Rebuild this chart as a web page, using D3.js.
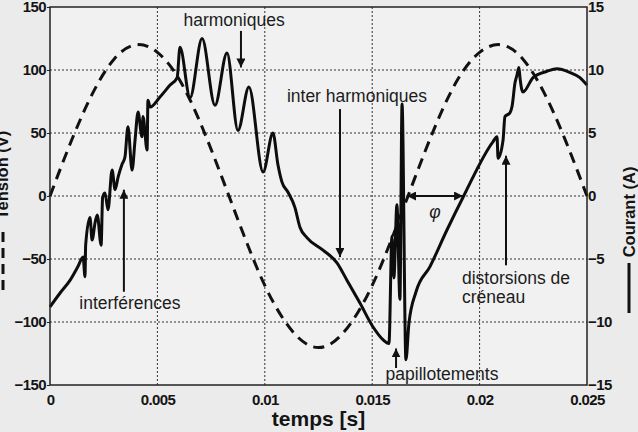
<!DOCTYPE html>
<html>
<head>
<meta charset="utf-8">
<script src="https://cdn.jsdelivr.net/npm/d3@7"></script>
<style>
    body { margin: 0; background: #ebebeb; }
    svg { display: block; font-family: "Liberation Sans", Arial, sans-serif; }
    .tick-label { font-weight: bold; font-size: 15px; fill: #141414; letter-spacing: -0.6px; }
    .note { font-size: 17.5px; fill: #1c1c1c; }
    .axis-title { font-weight: bold; fill: #141414; }
</style>
</head>
<body>
<svg class="chart" width="638" height="432"></svg>
<script>
// Tension (V), dashed curve, read every millisecond
const tensionTime = [0, 0.001, 0.002, 0.003, 0.004, 0.005, 0.006, 0.007, 0.008, 0.009, 0.010, 0.011, 0.012,
    0.013, 0.014, 0.015, 0.016, 0.017, 0.018, 0.019, 0.020, 0.021, 0.022, 0.023, 0.024, 0.025];
const tensionValues = [0, 44, 82, 109, 120, 114, 93, 58, 15, -30, -71, -101, -118,
    -118, -101, -71, -30, 15, 58, 93, 114, 120, 109, 82, 44, 0];

// Courant (A), solid curve
const courantTime = [0, 0.00047, 0.00093, 0.0013, 0.00154, 0.00163, 0.00166, 0.00186, 0.00196, 0.0021, 0.0022,
    0.00238, 0.00245, 0.00256, 0.0027, 0.00289, 0.00303, 0.00317, 0.00335, 0.00349, 0.00363, 0.00382, 0.00396,
    0.0041, 0.00428, 0.00433, 0.00452, 0.00456, 0.00466, 0.00512, 0.00559, 0.00592, 0.00605, 0.00652, 0.00708,
    0.00768, 0.00824, 0.00875, 0.00926, 0.00992, 0.01038, 0.01061, 0.0108, 0.01108, 0.0114, 0.01164, 0.01196,
    0.01271, 0.01336, 0.01383, 0.01443, 0.01504, 0.0155, 0.01578, 0.01592, 0.01601, 0.01615, 0.01629, 0.01639,
    0.01657, 0.01671, 0.01704, 0.01769, 0.01848, 0.01923, 0.02062, 0.02081, 0.02086, 0.02109, 0.02118, 0.02141,
    0.02151, 0.02165, 0.02174, 0.02183, 0.02188, 0.02197, 0.02202, 0.02249, 0.02314, 0.0236, 0.02421, 0.02467, 0.025];
const courantValues = [-8.8, -7.7, -6.7, -5.6, -4.84, -6.4, -3.9, -1.7, -3.5, -2.1, -1.5,
    -3.9, -0.1, 0.24, -1.1, 2.06, 0.5, 1.5, 2.5, 3.1, 5.5, 2.06, 4.44,
    6.67, 4.7, 6.3, 3.65, 7.6, 7.06, 7.86, 8.8, 9.4, 11.8, 7.8, 12.5,
    7.2, 11.35, 5.2, 8.65, 1.9, 5.0, 2.5, 1.1, 0.3, -0.9, -2.5, -3.3,
    -4.3, -5.3, -6.7, -8.5, -10.4, -11.4, -11.7, -3.2, -6.5, -0.7, -8.2, 7.3,
    -13.0, -10.1, -7.6, -5.6, -2.7, -0.1, 4.3, 4.7, 3.0, 4.4, 6.3, 6.6,
    7.1, 9.0, 9.6, 10.2, 9.4, 8.4, 8.25, 9.4, 9.9, 10.1, 9.8, 9.4, 8.8];

const xTicks = [0, 0.005, 0.01, 0.015, 0.02, 0.025];
const xTickLabels = ["0", "0.005", "0.01", "0.015", "0.02", "0.025"];
const tensionTicks = [-150, -100, -50, 0, 50, 100, 150];
const courantTicks = [-15, -10, -5, 0, 5, 10, 15];

// annotations, in data units (t, courant)
const noteTexts = [
    {t: 0.00857, a: 13.5, anchor: "middle", text: "harmoniques"},
    {t: 0.01429, a: 7.5, anchor: "middle", text: "inter harmoniques"},
    {t: 0.00372, a: -9.0, anchor: "middle", text: "interférences"},
    {t: 0.01825, a: -14.6, anchor: "middle", text: "papillotements"},
    {t: 0.01918, a: -7.0, anchor: "start", text: "distorsions de"},
    {t: 0.01918, a: -8.5, anchor: "start", text: "créneau"}
];
const noteArrows = [
    {t0: 0.00889, a0: 13.1, t1: 0.00889, a1: 10.2},
    {t0: 0.0135, a0: 6.9, t1: 0.0135, a1: -4.85},
    {t0: 0.00344, a0: -7.6, t1: 0.00344, a1: 0.5},
    {t0: 0.01611, a0: -13.65, t1: 0.01611, a1: -12.1},
    {t0: 0.02123, a0: -5.5, t1: 0.02123, a1: 3.2}
];
const phiArrow = {t0: 0.01662, t1: 0.01923, a: 0};

(function chartIIFE() {
    const svg = d3.select("svg.chart");
    const margin = {top: 7, right: 51, bottom: 47, left: 50};
    const width = svg.attr("width") - margin.left - margin.right;
    const height = svg.attr("height") - margin.top - margin.bottom;
    const g = svg.append("g").attr("transform", "translate(" + margin.left + "," + margin.top + ")");

    const x = d3.scaleLinear().domain([0, 0.025]).range([0, width]);
    const yV = d3.scaleLinear().domain([-150, 150]).range([height, 0]);
    const yA = d3.scaleLinear().domain([-15, 15]).range([height, 0]);

    const defs = svg.append("defs");
    defs.append("marker")
        .attr("id", "head")
        .attr("viewBox", "0 0 10 10")
        .attr("refX", 10).attr("refY", 5)
        .attr("markerWidth", 9).attr("markerHeight", 9)
        .attr("markerUnits", "userSpaceOnUse")
        .attr("orient", "auto-start-reverse")
        .append("path")
        .attr("d", "M0,0L10,5L0,10z")
        .attr("fill", "#111");

    g.append("rect")
        .attr("width", width).attr("height", height)
        .attr("fill", "#f1f1f1");

    // dotted grid
    g.append("g").selectAll("line")
        .data(xTicks.slice(1, -1))
        .enter().append("line")
        .attr("x1", d => x(d)).attr("x2", d => x(d))
        .attr("y1", 0).attr("y2", height)
        .attr("stroke", "#333").attr("stroke-width", 1).attr("stroke-dasharray", "2,2");
    g.append("g").selectAll("line")
        .data(tensionTicks.slice(1, -1))
        .enter().append("line")
        .attr("x1", 0).attr("x2", width)
        .attr("y1", d => yV(d)).attr("y2", d => yV(d))
        .attr("stroke", "#333").attr("stroke-width", 1).attr("stroke-dasharray", "2,2");

    // axes
    const left = g.append("g")
        .call(d3.axisLeft(yV).tickValues(tensionTicks).tickSize(3).tickFormat(d3.format("d")));
    const right = g.append("g")
        .attr("transform", "translate(" + width + ",0)")
        .call(d3.axisRight(yA).tickValues(courantTicks).tickSize(0).tickPadding(1).tickFormat(d3.format("d")));
    const bottom = g.append("g")
        .attr("transform", "translate(0," + height + ")")
        .call(d3.axisBottom(x).tickValues(xTicks).tickSize(0).tickPadding(9).tickFormat((d, i) => xTickLabels[i]));
    [left, right, bottom].forEach(function(ax) {
        ax.select(".domain").remove();
        ax.selectAll(".tick line").attr("stroke", "#222");
        ax.selectAll(".tick text").attr("class", "tick-label").attr("fill", null);
    });
    left.selectAll(".tick text").attr("x", -4);

    // voltage (dashed)
    const tensionLine = d3.line()
        .x((d, i) => x(tensionTime[i]))
        .y(d => yV(d))
        .curve(d3.curveNatural);
    g.append("path")
        .datum(tensionValues)
        .attr("d", tensionLine)
        .attr("fill", "none")
        .attr("stroke", "#111")
        .attr("stroke-width", 3)
        .attr("stroke-dasharray", "11,7");

    // current (solid)
    const courantLine = d3.line()
        .x((d, i) => x(courantTime[i]))
        .y(d => yA(d))
        .curve(d3.curveMonotoneX);
    g.append("path")
        .datum(courantValues)
        .attr("d", courantLine)
        .attr("fill", "none")
        .attr("stroke", "#0d0d0d")
        .attr("stroke-width", 3)
        .attr("stroke-linejoin", "round");

    // frame
    g.append("rect")
        .attr("width", width).attr("height", height)
        .attr("fill", "none").attr("stroke", "#222").attr("stroke-width", 1.5);

    // annotations
    g.append("g").selectAll("text")
        .data(noteTexts)
        .enter().append("text")
        .attr("class", "note")
        .attr("x", d => x(d.t))
        .attr("y", d => yA(d.a))
        .attr("text-anchor", d => d.anchor)
        .text(d => d.text);

    g.append("g").selectAll("line")
        .data(noteArrows)
        .enter().append("line")
        .attr("x1", d => x(d.t0)).attr("y1", d => yA(d.a0))
        .attr("x2", d => x(d.t1)).attr("y2", d => yA(d.a1))
        .attr("stroke", "#111").attr("stroke-width", 2)
        .attr("marker-end", "url(#head)");

    g.append("line")
        .attr("x1", x(phiArrow.t0)).attr("x2", x(phiArrow.t1))
        .attr("y1", yA(phiArrow.a)).attr("y2", yA(phiArrow.a))
        .attr("stroke", "#111").attr("stroke-width", 2)
        .attr("marker-start", "url(#head)")
        .attr("marker-end", "url(#head)");
    g.append("text")
        .attr("class", "note")
        .attr("x", x((phiArrow.t0 + phiArrow.t1) / 2))
        .attr("y", yA(phiArrow.a) + 22)
        .attr("text-anchor", "middle")
        .style("font-style", "italic")
        .text("φ");

    // axis titles
    svg.append("text")
        .attr("class", "axis-title")
        .attr("x", margin.left + width / 2)
        .attr("y", 426)
        .attr("text-anchor", "middle")
        .style("font-size", "21px")
        .text("temps [s]");

    const tTitle = svg.append("g").attr("transform", "translate(8,175) rotate(-90)");
    tTitle.append("text")
        .attr("class", "axis-title")
        .attr("text-anchor", "middle")
        .style("font-size", "16.5px")
        .text("Tension (V)");
    tTitle.append("line")
        .attr("x1", -115).attr("x2", -52)
        .attr("y1", -5).attr("y2", -5)
        .attr("stroke", "#111").attr("stroke-width", 3)
        .attr("stroke-dasharray", "10,6");

    const cTitle = svg.append("g").attr("transform", "translate(635,212) rotate(-90)");
    cTitle.append("text")
        .attr("class", "axis-title")
        .attr("text-anchor", "middle")
        .style("font-size", "16.5px")
        .text("Courant (A)");
    cTitle.append("line")
        .attr("x1", -101).attr("x2", -51)
        .attr("y1", -6).attr("y2", -6)
        .attr("stroke", "#111").attr("stroke-width", 3);
})();
</script>
</body>
</html>
